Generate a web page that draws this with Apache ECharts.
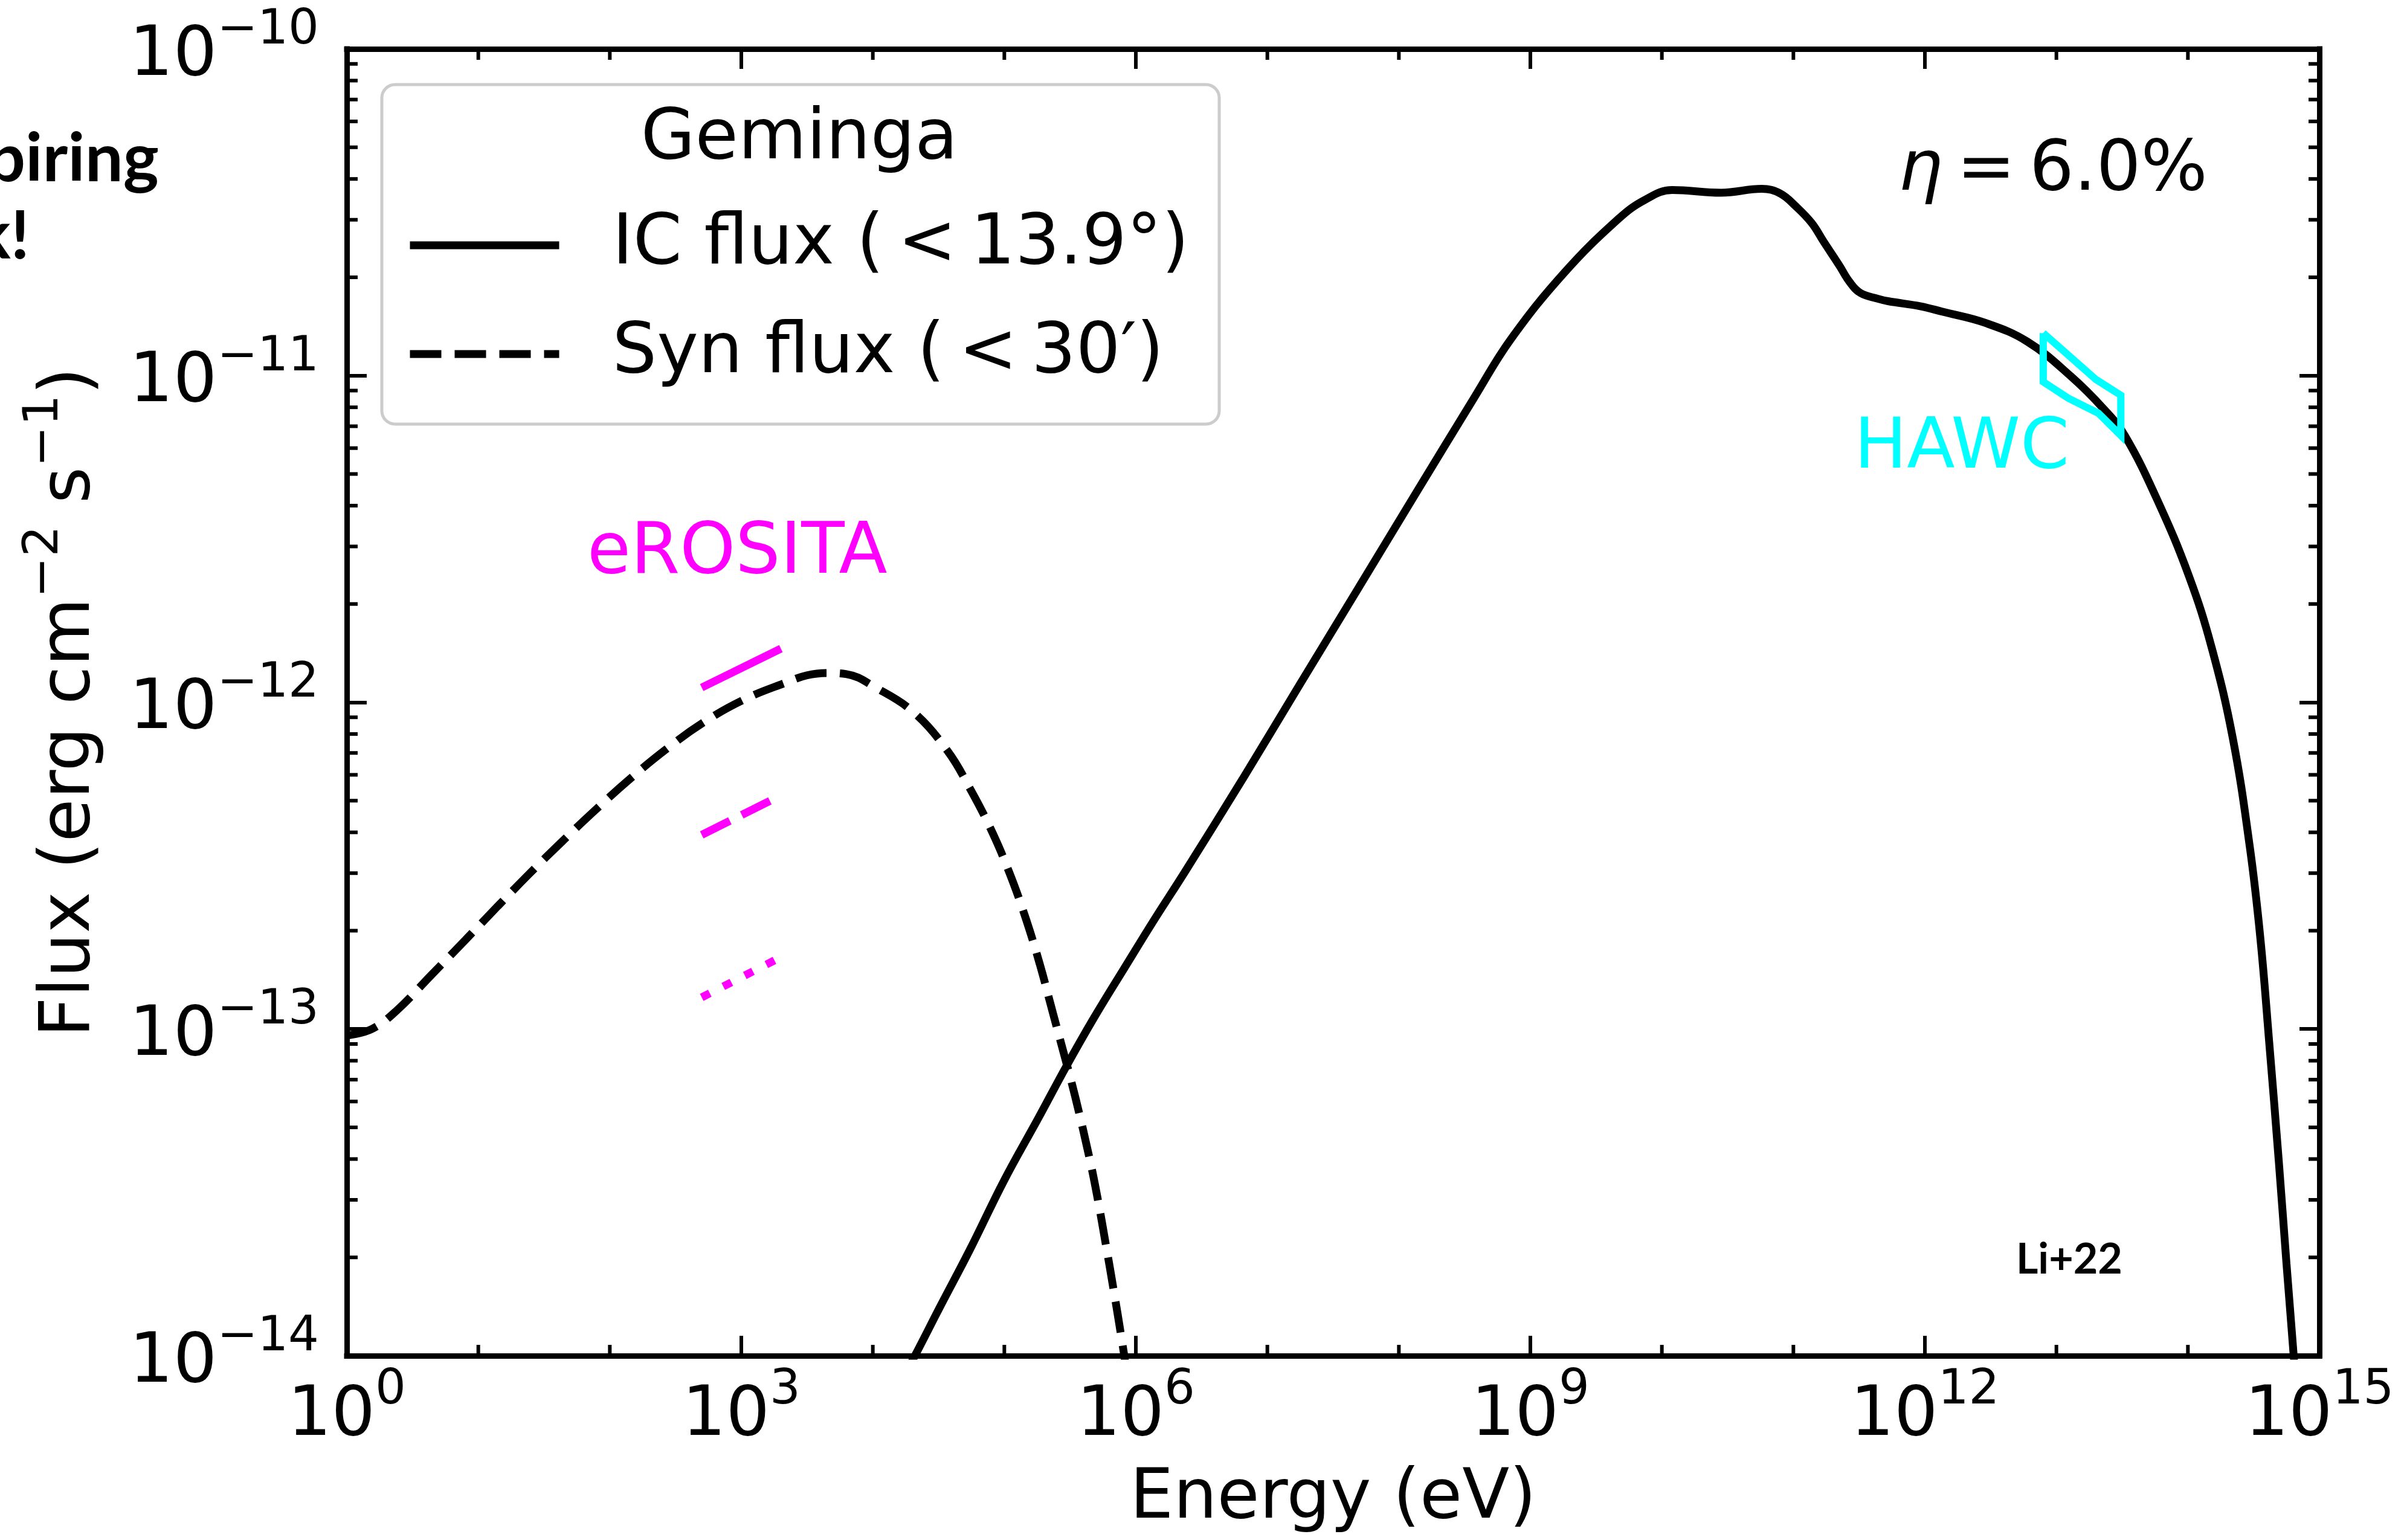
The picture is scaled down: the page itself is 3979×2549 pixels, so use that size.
<!DOCTYPE html>
<html>
<head>
<meta charset="utf-8">
<title>Geminga SED</title>
<script src="https://cdn.jsdelivr.net/npm/echarts@6/dist/echarts.min.js"></script>
<style>
  html, body { margin: 0; padding: 0; background: #fff; }
  #chart { width: 3979px; height: 2549px; }
</style>
</head>
<body>
<div id="chart"></div>
<script>
// energy in eV, flux in erg cm^-2 s^-1
const icEnergy = [1.78e4, 2.09e4, 3.24e4, 5.50e4, 1.00e5, 1.82e5, 2.95e5, 4.79e5, 8.13e5, 1.41e6,
  2.34e6, 6.46e6, 1.78e7, 4.90e7, 1.35e8, 3.72e8, 7.08e8, 1.82e9, 4.68e9, 7.41e9,
  1.20e10, 2.82e10, 5.75e10, 7.94e10, 1.05e11, 1.38e11, 1.70e11, 2.24e11, 2.69e11, 3.24e11,
  4.37e11, 5.25e11, 9.33e11, 1.35e12, 2.88e12, 6.03e12, 1.29e13, 2.29e13, 3.31e13, 5.89e13,
  1.02e14, 1.51e14, 2.19e14, 2.95e14, 3.55e14, 4.17e14, 4.90e14, 5.62e14, 6.46e14, 6.92e14];
const icFlux = [8.9e-15, 1.0e-14, 1.41e-14, 2.12e-14, 3.45e-14, 5.35e-14, 7.67e-14, 1.08e-13, 1.53e-13, 2.19e-13,
  3.01e-13, 5.81e-13, 1.14e-12, 2.23e-12, 4.37e-12, 8.53e-12, 1.29e-11, 2.07e-11, 3.02e-11, 3.45e-11,
  3.70e-11, 3.63e-11, 3.73e-11, 3.61e-11, 3.29e-11, 2.93e-11, 2.57e-11, 2.17e-11, 1.93e-11, 1.79e-11,
  1.72e-11, 1.69e-11, 1.63e-11, 1.57e-11, 1.45e-11, 1.27e-11, 9.95e-12, 7.91e-12, 6.56e-12, 4.14e-12,
  2.43e-12, 1.48e-12, 7.80e-13, 3.63e-13, 1.91e-13, 8.91e-14, 3.98e-14, 1.91e-14, 9.33e-15, 6.31e-15];

const synEnergy = [1, 1.55, 2.40, 4.37, 7.94, 14.1, 24.5, 43.7, 77.6, 141,
  269, 513, 1.05e3, 2.19e3, 3.16e3, 4.47e3, 6.31e3, 1.05e4, 2.04e4, 3.72e4,
  5.50e4, 7.94e4, 1.10e5, 1.45e5, 1.86e5, 2.34e5, 2.88e5, 3.47e5, 4.47e5, 5.13e5,
  5.89e5, 6.76e5, 7.76e5, 8.91e5];
const synFlux = [9.55e-14, 1.00e-13, 1.14e-13, 1.46e-13, 1.87e-13, 2.38e-13, 2.99e-13, 3.76e-13, 4.68e-13, 5.81e-13,
  7.19e-13, 8.67e-13, 1.02e-12, 1.15e-12, 1.21e-12, 1.23e-12, 1.22e-12, 1.11e-12, 9.33e-13, 7.08e-13,
  5.43e-13, 4.07e-13, 2.99e-13, 2.19e-13, 1.58e-13, 1.12e-13, 8.22e-14, 6.17e-14, 3.98e-14, 3.02e-14,
  2.21e-14, 1.60e-14, 1.14e-14, 7.94e-15];

// eROSITA 0.5-2 keV limits
const eroEnergy = [500, 2000];
const eroSolid = [1.11e-12, 1.46e-12];
const eroDashed = [3.93e-13, 5.19e-13];
const eroDotted = [1.25e-13, 1.66e-13];

// HAWC butterfly outline
const hawcEnergy = [7.94e12, 2.00e13, 3.09e13, 3.09e13, 2.09e13, 1.23e13, 7.94e12, 7.94e12];
const hawcFlux = [1.35e-11, 9.73e-12, 8.71e-12, 6.56e-12, 7.67e-12, 8.53e-12, 9.57e-12, 1.35e-11];

const xRange = [1, 1e15];
const yRange = [1e-14, 1e-10];
const xMinorTicks = [1e1, 1e2, 1e4, 1e5, 1e7, 1e8, 1e10, 1e11, 1e13, 1e14];
const yMinorTicks = [2e-14, 3e-14, 4e-14, 5e-14, 6e-14, 7e-14, 8e-14, 9e-14,
  2e-13, 3e-13, 4e-13, 5e-13, 6e-13, 7e-13, 8e-13, 9e-13,
  2e-12, 3e-12, 4e-12, 5e-12, 6e-12, 7e-12, 8e-12, 9e-12,
  2e-11, 3e-11, 4e-11, 5e-11, 6e-11, 7e-11, 8e-11, 9e-11];

const icName = 'IC flux (\u2009<\u200913.9\u00b0)';
const synName = 'Syn flux (\u2009<\u200930\u2032)';

const FONT = '"DejaVu Sans"';
const MINOR_LEN = 18;
const tickLine = { stroke: '#000', lineWidth: 6 };

function pairs(xs, ys) {
  return xs.map((x, i) => [x, ys[i]]);
}

function powLabel(v) {
  const e = Math.round(Math.log10(v));
  return '{b|10}{s|' + (e < 0 ? '\u2212' + (-e) : e) + '}';
}

const tickRich = {
  b: { fontFamily: FONT, fontSize: 114, lineHeight: 140, verticalAlign: 'bottom', color: '#000' },
  s: { fontFamily: FONT, fontSize: 80, lineHeight: 74, verticalAlign: 'top', color: '#000' }
};

function minorX(params, api) {
  const v = api.value(0);
  const a = api.coord([v, yRange[0]]);
  const b = api.coord([v, yRange[1]]);
  return {
    type: 'group',
    children: [
      { type: 'line', shape: { x1: a[0], y1: a[1], x2: a[0], y2: a[1] - MINOR_LEN }, style: tickLine },
      { type: 'line', shape: { x1: b[0], y1: b[1], x2: b[0], y2: b[1] + MINOR_LEN }, style: tickLine }
    ]
  };
}

function minorY(params, api) {
  const v = api.value(1);
  const a = api.coord([xRange[0], v]);
  const b = api.coord([xRange[1], v]);
  return {
    type: 'group',
    children: [
      { type: 'line', shape: { x1: a[0], y1: a[1], x2: a[0] + MINOR_LEN, y2: a[1] }, style: tickLine },
      { type: 'line', shape: { x1: b[0], y1: b[1], x2: b[0] - MINOR_LEN, y2: b[1] }, style: tickLine }
    ]
  };
}

function frameAxis(extra) {
  return Object.assign({
    axisLine: { show: true, onZero: false, lineStyle: { color: '#000', width: 9, cap: 'square' } },
    axisTick: { show: true, inside: true, length: 33, lineStyle: { color: '#000', width: 6 } },
    splitLine: { show: false },
    minorTick: { show: false },
    nameMoveOverlap: false
  }, extra);
}

const chart = echarts.init(document.getElementById('chart'));

chart.setOption({
  animation: false,
  backgroundColor: '#fff',
  grid: { left: 574, right: 140, top: 81, bottom: 305, outerBoundsMode: 'none', containLabel: false },
  xAxis: [
    frameAxis({
      type: 'log', logBase: 1000, min: xRange[0], max: xRange[1], position: 'bottom',
      axisLabel: { margin: 18, formatter: powLabel, rich: tickRich, showMinLabel: true, showMaxLabel: true },
      name: 'Energy (eV)', nameLocation: 'middle', nameGap: 181,
      nameTextStyle: { fontFamily: FONT, fontSize: 114, lineHeight: 114, color: '#000' }
    }),
    frameAxis({
      type: 'log', logBase: 1000, min: xRange[0], max: xRange[1], position: 'top',
      axisLabel: { show: false }
    })
  ],
  yAxis: [
    frameAxis({
      type: 'log', logBase: 10, min: yRange[0], max: yRange[1], position: 'left',
      axisLabel: { margin: 46, formatter: powLabel, rich: tickRich, showMinLabel: true, showMaxLabel: true },
      name: '{b|Flux (erg cm}{s|\u22122}{b| s}{s|\u22121}{b|)}',
      nameLocation: 'middle', nameRotate: 90, nameGap: 399,
      nameTextStyle: {
        rich: {
          b: { fontFamily: FONT, fontSize: 116, lineHeight: 142, verticalAlign: 'bottom', color: '#000' },
          s: { fontFamily: FONT, fontSize: 81, lineHeight: 76, verticalAlign: 'top', color: '#000' }
        }
      }
    }),
    frameAxis({
      type: 'log', logBase: 10, min: yRange[0], max: yRange[1], position: 'right',
      axisLabel: { show: false }
    })
  ],
  legend: {
    data: [
      { name: icName, lineStyle: { type: 'solid', width: 13, color: '#000' } },
      { name: synName, lineStyle: { type: [52, 22], width: 13, color: '#000' } }
    ],
    orient: 'vertical',
    left: 672, top: 316,
    padding: 0, itemGap: 0,
    itemWidth: 247, itemHeight: 2,
    itemStyle: { color: 'rgba(0,0,0,0)', borderWidth: 0 },
    textStyle: { fontFamily: FONT, fontSize: 116, color: '#000', lineHeight: 180, padding: [0, 0, 0, 83] },
    selectedMode: false,
    z: 10
  },
  graphic: [
    {
      type: 'rect', z: 3,
      shape: { x: 632, y: 140, width: 1386, height: 562, r: 22 },
      style: { fill: 'rgba(255,255,255,0.8)', stroke: '#cccccc', lineWidth: 5 }
    },
    {
      type: 'text', z: 11, x: 1323, y: 232,
      style: { text: 'Geminga', font: '116px "DejaVu Sans"', fill: '#000', align: 'center', verticalAlign: 'middle', textAlign: 'center', textVerticalAlign: 'middle' }
    },
    {
      type: 'text', z: 11, x: 3142, y: 284,
      style: {
        text: '{i|\u03b7}{n|\u2009=\u20096.0%}', fill: '#000', verticalAlign: 'middle', textVerticalAlign: 'middle',
        rich: {
          i: { fontFamily: FONT, fontSize: 116, fontStyle: 'italic', fill: '#000', color: '#000' },
          n: { fontFamily: FONT, fontSize: 116, fill: '#000', color: '#000' }
        }
      }
    },
    {
      type: 'text', z: 11, x: 3069, y: 744,
      style: { text: 'HAWC', font: '116px "DejaVu Sans"', fill: '#00ffff', verticalAlign: 'middle', textVerticalAlign: 'middle' }
    },
    {
      type: 'text', z: 11, x: 972, y: 918,
      style: { text: 'eROSITA', font: '117px "DejaVu Sans"', fill: '#ff00ff', verticalAlign: 'middle', textVerticalAlign: 'middle' }
    },
    {
      type: 'text', z: 11, x: 3337, y: 2085,
      style: { text: 'Li+22', font: 'bold 70px Lato', fill: '#000', verticalAlign: 'middle', textVerticalAlign: 'middle' }
    },
    {
      type: 'text', z: 11, x: 263, y: 264,
      style: { text: 'piring', font: 'bold 112px Lato', fill: '#000', align: 'right', textAlign: 'right', verticalAlign: 'middle', textVerticalAlign: 'middle' }
    },
    {
      type: 'text', z: 11, x: 49, y: 392,
      style: { text: 'k!', font: 'bold 112px Lato', fill: '#000', align: 'right', textAlign: 'right', verticalAlign: 'middle', textVerticalAlign: 'middle' }
    }
  ],
  series: [
    {
      name: icName, type: 'line', data: pairs(icEnergy, icFlux),
      symbol: 'none', showSymbol: false, smooth: 0.4, clip: true,
      lineStyle: { color: '#000', width: 13 }, z: 4
    },
    {
      name: synName, type: 'line', data: pairs(synEnergy, synFlux),
      symbol: 'none', showSymbol: false, smooth: 0.4, clip: true,
      lineStyle: { color: '#000', width: 13, type: [52, 22] }, z: 4
    },
    {
      name: 'eROSITA 1', type: 'line', data: pairs(eroEnergy, eroSolid),
      symbol: 'none', showSymbol: false,
      lineStyle: { color: '#ff00ff', width: 13 }, z: 4
    },
    {
      name: 'eROSITA 2', type: 'line', data: pairs(eroEnergy, eroDashed),
      symbol: 'none', showSymbol: false,
      lineStyle: { color: '#ff00ff', width: 13, type: [52, 22] }, z: 4
    },
    {
      name: 'eROSITA 3', type: 'line', data: pairs(eroEnergy, eroDotted),
      symbol: 'none', showSymbol: false,
      lineStyle: { color: '#ff00ff', width: 13, type: [15, 25] }, z: 4
    },
    {
      name: 'HAWC', type: 'line', data: pairs(hawcEnergy, hawcFlux),
      symbol: 'none', showSymbol: false,
      lineStyle: { color: '#00ffff', width: 12, join: 'miter' }, z: 5
    },
    {
      name: 'xMinor', type: 'custom', renderItem: minorX, silent: true, clip: false,
      data: xMinorTicks.map(v => [v, yRange[0]]), z: 6
    },
    {
      name: 'yMinor', type: 'custom', renderItem: minorY, silent: true, clip: false,
      data: yMinorTicks.map(v => [xRange[0], v]), z: 6
    }
  ]
});
</script>
</body>
</html>
